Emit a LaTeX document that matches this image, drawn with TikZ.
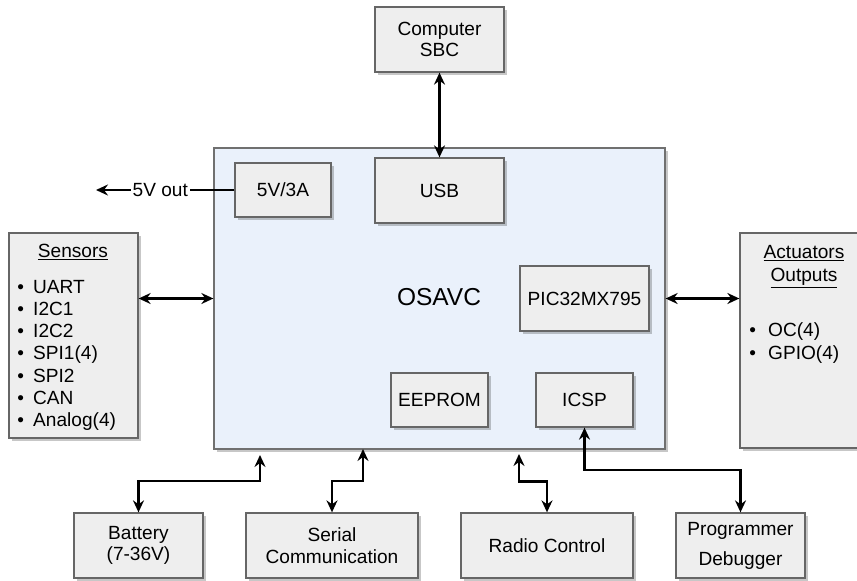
\documentclass[tikz,border=0pt]{standalone}
\usepackage{fontspec}
\setmainfont{Liberation Sans}
\usetikzlibrary{arrows.meta,shadows}
\definecolor{boxfill}{HTML}{EEEEEE}
\definecolor{boxline}{HTML}{666666}
\definecolor{mainfill}{HTML}{EAF1FB}
\definecolor{mainline}{HTML}{707070}
\tikzset{
  base/.style={font=\fontsize{19.1pt}{21.7pt}\selectfont, align=center, inner sep=0pt},
  gbox/.style={base, draw=boxline, fill=boxfill, line width=1.3pt,
    drop shadow={shadow xshift=3pt, shadow yshift=-3pt, fill=black, opacity=0.22}},
  mainbox/.style={draw=mainline, fill=mainfill, line width=1.3pt, inner sep=0pt,
    drop shadow={shadow xshift=3pt, shadow yshift=-3pt, fill=black, opacity=0.22}},
  txt/.style={base},
  biarrow/.style={line width=2.2pt, {Stealth[length=12pt,width=11pt,inset=4pt]}-{Stealth[length=12pt,width=11pt,inset=4pt]}},
  onearrow/.style={line width=2.2pt, -{Stealth[length=12pt,width=11pt,inset=4pt]}},
  bul/.style={base, font=\fontsize{19pt}{21pt}\selectfont, anchor=base},
}
\begin{document}
\begin{tikzpicture}[x=1pt,y=-1pt]
\useasboundingbox (0,0) rectangle (857,581);
\clip (0,0) rectangle (857,581);
% main block
\node[mainbox, minimum width=451pt, minimum height=301pt] (main) at (439.5,298.5) {};
\node[txt, font=\fontsize{24.5pt}{28pt}\selectfont] (osavc) at (439,297) {OSAVC};
% inner boxes
\node[gbox, minimum width=129pt, minimum height=65pt] (usb) at (439.5,190.5) {USB};
\node[gbox, minimum width=96pt, minimum height=54pt] (v5) at (283,190) {5V/3A};
\node[gbox, minimum width=129pt, minimum height=65pt] (pic) at (584.5,298.5) {PIC32MX795};
\node[gbox, minimum width=97pt, minimum height=54pt] (eeprom) at (439.5,400) {EEPROM};
\node[gbox, minimum width=97pt, minimum height=54pt] (icsp) at (584.5,400) {ICSP};
% outer boxes
\node[gbox, minimum width=129pt, minimum height=65pt] (sbc) at (439.5,39.5) {Computer\\SBC};
\node[gbox, minimum width=129pt, minimum height=205pt] (sensors) at (73.5,335.5) {};
\node[gbox, minimum width=129pt, minimum height=215pt] (act) at (804.5,340.5) {};
\node[gbox, minimum width=129pt, minimum height=65pt] (battery) at (138.5,545.5) {Battery\\(7-36V)};
\node[gbox, minimum width=172pt, minimum height=65pt] (serial) at (332,545.5) {Serial\\Communication};
\node[gbox, minimum width=172pt, minimum height=65pt] (radio) at (547,545.5) {Radio Control};
\node[gbox, minimum width=129pt, minimum height=65pt] (prog) at (740.5,545.5) {Programmer\\[8.3pt]Debugger};
% sensors text
\node[txt, anchor=base] (stitle) at (73,257.3) {\underline{Sensors}};
\foreach \i/\t in {0/UART,1/I2C1,2/I2C2,3/SPI1(4),4/SPI2,5/CAN,6/Analog(4)}{
  \node[bul] (sb\i) at (20.7,293.3+22.2*\i) {•};
  \node[txt, anchor=base west] (si\i) at (33,293.3+22.2*\i) {\t};
}
% actuators text
\node[txt, anchor=base] (at1) at (804,258.3) {\underline{Actuators}};
\node[txt, anchor=base] (at2) at (804,281.7) {\underline{Outputs}};
\node[bul] (ab0) at (752.7,336.7) {•};
\node[txt, anchor=base west] (ai0) at (768,336.7) {OC(4)};
\node[bul] (ab1) at (752.7,359.3) {•};
\node[txt, anchor=base west] (ai1) at (768,359.3) {GPIO(4)};
% connectors
\draw[biarrow] (sbc.south) -- (usb.north);
\draw[biarrow] (main.west -| sensors.east) -- (main.west);
\draw[biarrow] (main.east) -- (main.east -| act.west);
\coordinate (vout) at (96,190);
\draw[onearrow] (v5.west) -- node[txt, fill=white, inner xsep=2pt, pos=0.535] (vlabel) {5V out} (vout);
\coordinate (bt) at (260,455);
\draw[biarrow] (bt) -- (260,481) -| (battery.north);
\coordinate (st) at (363,449);
\draw[biarrow] (st) -- (363,481) -| (serial.north);
\coordinate (rt) at (519,454);
\draw[biarrow] (rt) -- (519,481.5) -| (radio.north);
\draw[biarrow] (icsp.south) -- (584.5,470) -| (prog.north);
\end{tikzpicture}
\end{document}
